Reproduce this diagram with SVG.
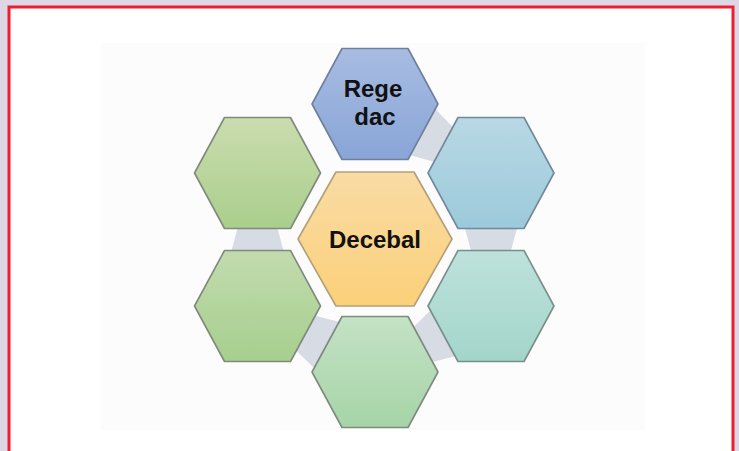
<svg xmlns="http://www.w3.org/2000/svg" width="739" height="451" viewBox="0 0 739 451">
  <defs>
    <linearGradient id="gBlue" x1="0" y1="0" x2="0" y2="1">
      <stop offset="0" stop-color="#a7bce2"/>
      <stop offset="1" stop-color="#89a5d6"/>
    </linearGradient>
    <linearGradient id="gOrange" x1="0" y1="0" x2="0" y2="1">
      <stop offset="0" stop-color="#f9dca4"/>
      <stop offset="1" stop-color="#fbd079"/>
    </linearGradient>
    <linearGradient id="gGreen1" x1="0" y1="0" x2="0" y2="1">
      <stop offset="0" stop-color="#cbdcae"/>
      <stop offset="1" stop-color="#a9cf8c"/>
    </linearGradient>
    <linearGradient id="gGreen2" x1="0" y1="0" x2="0" y2="1">
      <stop offset="0" stop-color="#c2dbae"/>
      <stop offset="1" stop-color="#a6cf8e"/>
    </linearGradient>
    <linearGradient id="gSky" x1="0" y1="0" x2="0" y2="1">
      <stop offset="0" stop-color="#b8d8e4"/>
      <stop offset="1" stop-color="#9ccadb"/>
    </linearGradient>
    <linearGradient id="gTeal" x1="0" y1="0" x2="0" y2="1">
      <stop offset="0" stop-color="#bde2db"/>
      <stop offset="1" stop-color="#a3d5cb"/>
    </linearGradient>
    <linearGradient id="gMint" x1="0" y1="0" x2="0" y2="1">
      <stop offset="0" stop-color="#c4e2c5"/>
      <stop offset="1" stop-color="#a6d4a7"/>
    </linearGradient>
    <polygon id="hex" points="-33,-55.5 33,-55.5 63,0 33,55.5 -33,55.5 -63,0"/>
    <polygon id="hexBig" points="-39,-67 39,-67 77,0 39,67 -39,67 -77,0"/>
  </defs>
  <style>
    .hex { stroke: #7f8a7c; stroke-width: 1.6; stroke-linejoin: round; }
    .band { fill: #d6dbe4; stroke: none; }
    .label { font-family: "Liberation Sans", Arial, sans-serif; font-weight: bold; font-size: 24px; fill: #111; text-anchor: middle; }
  </style>

  <rect x="0" y="0" width="739" height="451" fill="#ddd6e4"/>
  <rect x="9" y="7" width="724" height="446" fill="#ffffff" stroke="#ec1f30" stroke-width="3"/>
  <rect x="101" y="43" width="544" height="387" fill="#fcfcfc"/>

  <g id="connectors">
    <polygon class="band" points="354.0,139.2 488.4,177.3 493.6,168.7 396.0,68.8"/>
    <polygon class="band" points="450,173 486,306 496,306 532,173"/>
    <polygon class="band" points="470.7,270.4 372.5,367.7 377.5,376.3 511.3,341.6"/>
    <polygon class="band" points="395.1,336.3 259.9,301.6 255.1,310.4 354.9,407.7"/>
    <polygon class="band" points="298.5,306 262.5,173 252.5,173 216.5,306"/>
  </g>

  <g id="node-rege-dac">
    <use href="#hex" x="375" y="104" class="hex" fill="url(#gBlue)" style="stroke:#6f7f9c"/>
    <text class="label" x="373" y="97">Rege</text>
    <text class="label" x="375" y="125">dac</text>
  </g>
  <g id="node-upper-right">
    <use href="#hex" x="491" y="173" class="hex" fill="url(#gSky)" style="stroke:#72899a"/>
  </g>
  <g id="node-lower-right">
    <use href="#hex" x="491" y="306" class="hex" fill="url(#gTeal)" style="stroke:#7a8e8a"/>
  </g>
  <g id="node-bottom">
    <use href="#hex" x="375" y="372" class="hex" fill="url(#gMint)"/>
  </g>
  <g id="node-lower-left">
    <use href="#hex" x="257.5" y="306" class="hex" fill="url(#gGreen2)"/>
  </g>
  <g id="node-upper-left">
    <use href="#hex" x="257.5" y="173" class="hex" fill="url(#gGreen1)"/>
  </g>
  <g id="node-decebal">
    <use href="#hexBig" x="375" y="239" class="hex" fill="url(#gOrange)" style="stroke:#b3a07a"/>
    <text class="label" x="375" y="248">Decebal</text>
  </g>
</svg>
